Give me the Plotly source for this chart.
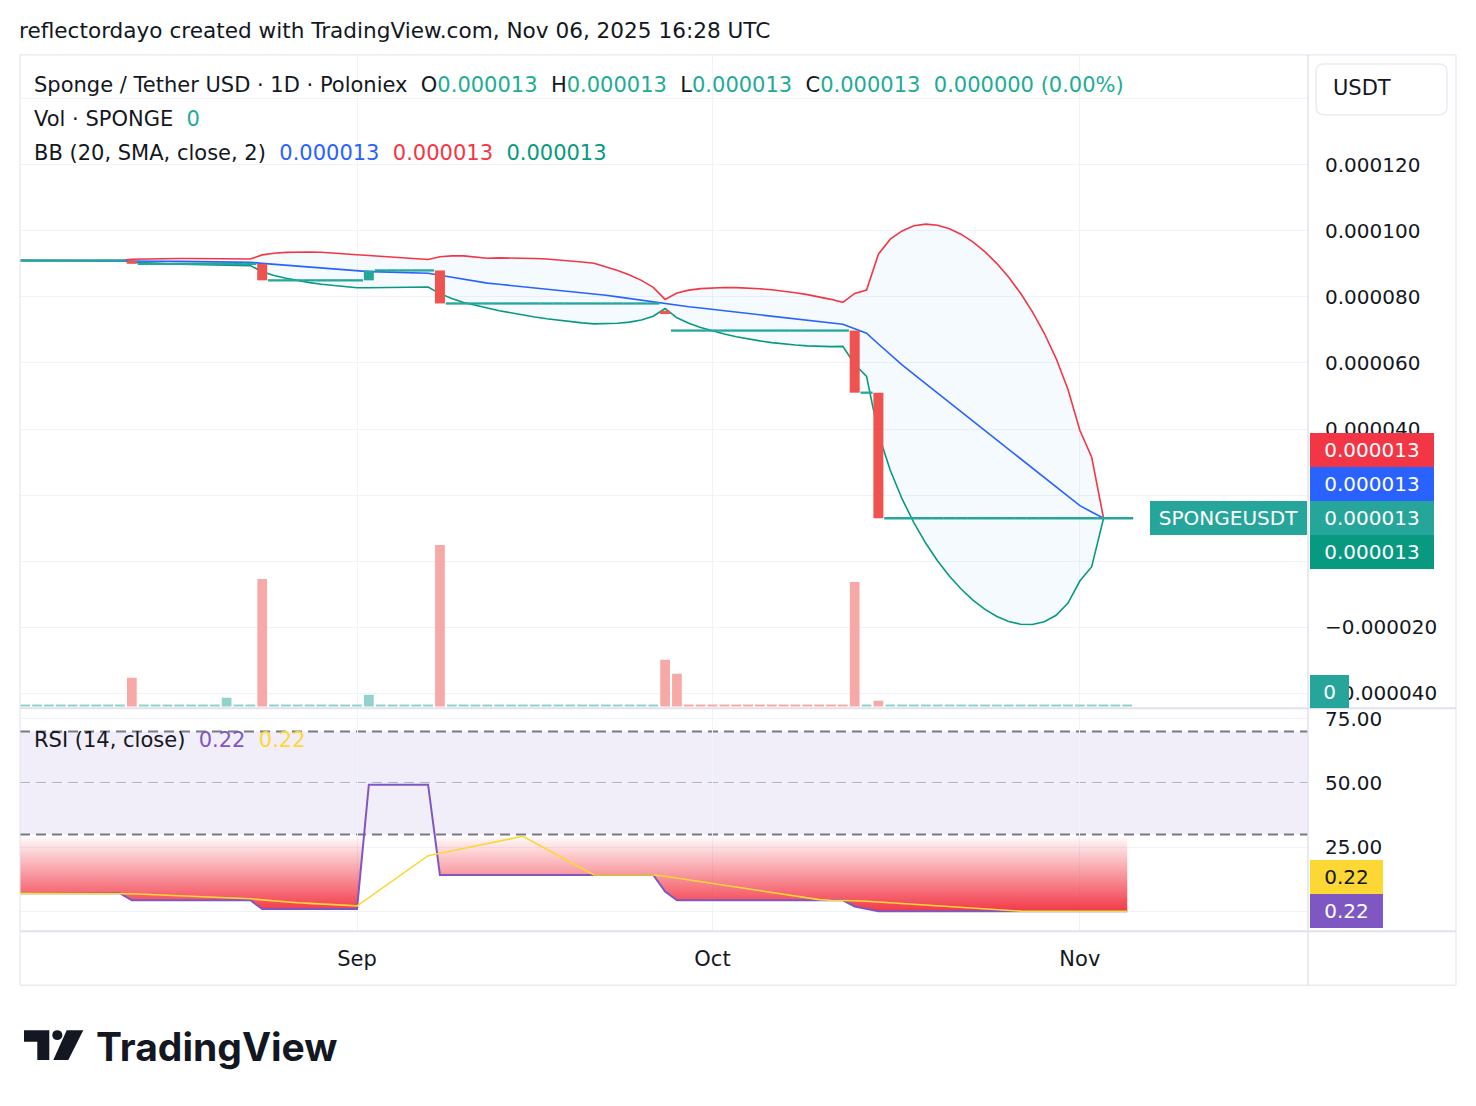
import numpy as np
import pandas as pd
import plotly.graph_objects as go

W, H = 1476, 1106

# ---------------------------------------------------------------- data
first_day = "2025-08-03"
n_days = 95
dates = pd.date_range(first_day, periods=n_days, freq="D")

# prices below are in millionths of USDT (value x 1e-6)
open_u = [
    91.0, 91.0, 91.0, 91.0, 91.0, 91.0, 91.0, 91.0, 91.0, 91.0,
    91.0, 90.0, 90.0, 90.0, 90.0, 90.0, 90.0, 90.0, 90.0, 90.0, 90.0,
    90.0, 85.0, 85.0, 85.0, 85.0, 85.0, 85.0, 85.0, 85.0,
    85.0, 88.0, 88.0, 88.0, 88.0, 88.0,
    88.0, 78.0, 78.0, 78.0, 78.0, 78.0, 78.0, 78.0, 78.0, 78.0,
    78.0, 78.0, 78.0, 78.0, 78.0, 78.0, 78.0, 78.0, 78.0,
    75.8,
    69.8, 69.8, 69.8, 69.8, 69.8, 69.8, 69.8, 69.8, 69.8, 69.8,
    69.8, 69.8, 69.8, 69.8, 69.8,
    69.8, 51.0,
    51.0, 13.0, 13.0, 13.0, 13.0, 13.0, 13.0, 13.0, 13.0, 13.0, 13.0,
    13.0, 13.0, 13.0, 13.0, 13.0, 13.0, 13.0, 13.0, 13.0, 13.0, 13.0,
]
close_u = [
    91.0, 91.0, 91.0, 91.0, 91.0, 91.0, 91.0, 91.0, 91.0, 91.0,
    90.0, 90.0, 90.0, 90.0, 90.0, 90.0, 90.0, 90.0, 90.0, 90.0, 90.0,
    85.0, 85.0, 85.0, 85.0, 85.0, 85.0, 85.0, 85.0, 85.0,
    88.0, 88.0, 88.0, 88.0, 88.0, 88.0,
    78.0, 78.0, 78.0, 78.0, 78.0, 78.0, 78.0, 78.0, 78.0, 78.0,
    78.0, 78.0, 78.0, 78.0, 78.0, 78.0, 78.0, 78.0, 78.0,
    74.8,
    69.8, 69.8, 69.8, 69.8, 69.8, 69.8, 69.8, 69.8, 69.8, 69.8,
    69.8, 69.8, 69.8, 69.8, 69.8,
    51.0, 51.0,
    13.0, 13.0, 13.0, 13.0, 13.0, 13.0, 13.0, 13.0, 13.0, 13.0, 13.0,
    13.0, 13.0, 13.0, 13.0, 13.0, 13.0, 13.0, 13.0, 13.0, 13.0, 13.0,
]
bb_mid_u = [
    91.00, 91.00, 91.00, 91.00, 91.00, 91.00, 91.00, 91.00, 91.00, 91.00,
    90.95, 90.90, 90.85, 90.80, 90.75, 90.70, 90.65, 90.60, 90.55, 90.50, 90.45,
    90.15, 89.85, 89.55, 89.25, 88.95, 88.65, 88.35, 88.05, 87.75,
    87.65, 87.55, 87.45, 87.35, 87.25, 87.15,
    86.55, 85.95, 85.35, 84.75, 84.15, 83.80, 83.45, 83.10, 82.75, 82.40,
    82.05, 81.70, 81.35, 81.00, 80.50, 80.00, 79.50, 79.00, 78.50,
    77.84, 77.43, 77.02, 76.61, 76.20, 75.79, 75.38, 74.97, 74.56, 74.15,
    73.74, 73.33, 72.92, 72.51, 72.10, 71.69,
    70.34, 68.99, 65.74, 62.49, 59.40, 56.56, 53.72, 50.88, 48.04, 45.20,
    42.36, 39.52, 36.68, 33.84, 31.00, 28.16, 25.32, 22.48, 19.64, 16.80,
    14.90, 13.00, 13.00, 13.00,
]
bb_upper_u = [
    91.00, 91.00, 91.00, 91.00, 91.00, 91.00, 91.00, 91.00, 91.00, 91.00,
    91.39, 91.50, 91.56, 91.60, 91.62, 91.62, 91.60, 91.58, 91.55, 91.50, 91.45,
    92.70, 93.21, 93.47, 93.58, 93.58, 93.48, 93.30, 93.05, 92.73,
    92.52, 92.30, 92.07, 91.83, 91.58, 91.31,
    92.12, 92.41, 92.40, 92.15, 91.69, 91.79, 91.80, 91.75, 91.62, 91.44,
    91.20, 90.91, 90.56, 90.17, 89.16, 88.00, 86.64, 85.00, 82.86,
    79.23, 81.19, 82.03, 82.50, 82.75, 82.84, 82.81, 82.68, 82.45, 82.14,
    81.74, 81.25, 80.68, 80.01, 79.25, 78.36,
    81.06, 82.05, 92.93, 97.47, 99.96, 101.52, 102.02, 101.68, 100.62, 98.90,
    96.56, 93.62, 90.08, 85.92, 81.08, 75.48, 68.98, 61.32, 51.98, 39.60,
    31.46, 13.00, 13.00, 13.00,
]
bb_lower_u = [
    91.00, 91.00, 91.00, 91.00, 91.00, 91.00, 91.00, 91.00, 91.00, 91.00,
    90.51, 90.30, 90.14, 90.00, 89.88, 89.78, 89.70, 89.62, 89.56, 89.50, 89.46,
    87.60, 86.49, 85.63, 84.92, 84.32, 83.82, 83.40, 83.05, 82.77,
    82.78, 82.80, 82.83, 82.87, 82.92, 82.99,
    80.98, 79.49, 78.30, 77.35, 76.61, 75.81, 75.10, 74.45, 73.88, 73.36,
    72.90, 72.49, 72.14, 71.83, 71.84, 72.00, 72.36, 73.00, 74.14,
    76.45, 73.67, 72.01, 70.72, 69.65, 68.74, 67.94, 67.26, 66.67, 66.16,
    65.74, 65.41, 65.16, 65.01, 64.95, 65.02,
    59.62, 55.93, 38.55, 27.51, 18.84, 11.60, 5.42, 0.08, -4.54, -8.50,
    -11.84, -14.58, -16.72, -18.24, -19.08, -19.16, -18.34, -16.36, -12.70, -6.00,
    -1.66, 13.00, 13.00, 13.00,
]
volume = [
    2000, 2000, 2000, 2000, 2000, 2000, 2000, 2000, 2000, 2000,
    28700, 2000, 2000, 2000, 2000, 2000, 2000, 2000, 8700, 2000, 2000,
    127700, 2000, 2000, 2000, 2000, 2000, 2000, 2000, 2000,
    11700, 2000, 2000, 2000, 2000, 2000,
    161700, 2000, 2000, 2000, 2000, 2000, 2000, 2000, 2000, 2000,
    2000, 2000, 2000, 2000, 2000, 2000, 2000, 2000, 2000,
    46700,
    32700, 2000, 2000, 2000, 2000, 2000, 2000, 2000, 2000, 2000,
    2000, 2000, 2000, 2000, 2000,
    124700, 2000,
    5700, 2000, 2000, 2000, 2000, 2000, 2000, 2000, 2000, 2000, 2000,
    2000, 2000, 2000, 2000, 2000, 2000, 2000, 2000, 2000, 2000, 2000,
]
vol_down = [
    0, 0, 0, 0, 0, 0, 0, 0, 0, 0,
    1, 0, 0, 0, 0, 0, 0, 0, 0, 0, 0,
    1, 0, 0, 0, 0, 0, 0, 0, 0,
    0, 0, 0, 0, 0, 0,
    1, 0, 0, 0, 0, 0, 0, 0, 0, 0,
    0, 0, 0, 0, 0, 0, 0, 0, 0,
    1,
    1, 1, 1, 1, 1, 1, 1, 1, 1, 1,
    1, 1, 1, 1, 1,
    1, 0,
    1, 0, 0, 0, 0, 0, 0, 0, 0, 0, 0,
    0, 0, 0, 0, 0, 0, 0, 0, 0, 0, 0,
]
rsi = [
    7.2, 7.2, 7.2, 7.2, 7.2, 7.2, 7.2, 7.2, 7.2, 7.2,
    4.5, 4.5, 4.5, 4.5, 4.5, 4.5, 4.5, 4.5, 4.5, 4.5, 4.5,
    1.1, 1.1, 1.1, 1.1, 1.1, 1.1, 1.1, 1.1, 1.1,
    49.4, 49.4, 49.4, 49.4, 49.4, 49.4,
    14.3, 14.3, 14.3, 14.3, 14.3, 14.3, 14.3, 14.3, 14.3, 14.3,
    14.3, 14.3, 14.3, 14.3, 14.3, 14.3, 14.3, 14.3, 14.3,
    7.9,
    4.5, 4.5, 4.5, 4.5, 4.5, 4.5, 4.5, 4.5, 4.5, 4.5,
    4.5, 4.5, 4.5, 4.5, 4.5,
    2.1, 1.2,
    0.22, 0.22, 0.22, 0.22, 0.22, 0.22, 0.22, 0.22, 0.22, 0.22, 0.22,
    0.22, 0.22, 0.22, 0.22, 0.22, 0.22, 0.22, 0.22, 0.22, 0.22, 0.22,
]
rsi_ma = [
    7.2, 7.2, 7.2, 7.2, 7.2, 7.2, 7.2, 7.2, 7.2, 7.2,
    7.01, 6.81, 6.63, 6.44, 6.24, 6.05, 5.86, 5.66, 5.47, 5.28, 5.09,
    4.64, 4.21, 3.77, 3.53, 3.29, 3.04, 2.80, 2.56, 2.31,
    5.52, 8.73, 11.94, 15.14, 18.35, 21.80,
    22.74, 23.69, 24.63, 25.57, 26.51, 27.46, 28.40, 29.34, 26.84, 24.33,
    21.82, 19.31, 16.81, 14.3, 14.3, 14.3, 14.3, 14.3, 14.3,
    13.84,
    13.14, 12.44, 11.74, 11.04, 10.34, 9.64, 8.94, 8.24, 7.54, 6.84,
    6.14, 5.44, 4.74, 4.5, 4.5,
    4.33, 4.09,
    3.79, 3.48, 3.18, 2.87, 2.57, 2.27, 1.96, 1.66, 1.35, 1.05, 0.74,
    0.42, 0.29, 0.22, 0.22, 0.22, 0.22, 0.22, 0.22, 0.22, 0.22, 0.22,
]

price_ticks_u = [-40, -20, 0, 20, 40, 60, 80, 100, 120, 140]
price_ticks_hidden_u = [0, 20, 140]   # covered by the value labels / currency button
rsi_ticks = [0, 25, 50, 75]
rsi_upper_level, rsi_mid_level, rsi_lower_level = 70, 50, 30
month_ticks = ["2025-09-01", "2025-10-01", "2025-11-01"]
month_labels = ["Sep", "Oct", "Nov"]
view_range = ["2025-08-03 13:28", "2025-11-20 06:04"]

# ---------------------------------------------------------------- helpers
def X(p):
    return p / W


def Y(p):
    return 1 - p / H


U = 1e-6
opn = np.array(open_u) * U
cls = np.array(close_u) * U
mid = np.array(bb_mid_u) * U
upp = np.array(bb_upper_u) * U
low = np.array(bb_lower_u) * U

TXT = "#131722"
RED_C = "#EF5350"
GRN_C = "#26A69A"
GRID = "#F0F3FA"
BORDER = "#E0E3EB"
FONT = "DejaVu Sans"
day_ms = 86400000
bar_w = 0.82 * day_ms

fig = go.Figure()

# volume (overlay axis)
fig.add_trace(go.Bar(
    x=dates, y=volume, width=bar_w, xaxis="x", yaxis="y2",
    marker=dict(color=["#F7A9A7" if d else "#92D2CC" for d in vol_down], line=dict(width=0)),
    hoverinfo="skip"))

# Bollinger bands
fig.add_trace(go.Scatter(x=dates, y=upp, mode="lines", line=dict(color="#F23645", width=1.6),
                         xaxis="x", yaxis="y", hoverinfo="skip"))
fig.add_trace(go.Scatter(x=dates, y=low, mode="lines", line=dict(color="#089981", width=1.6),
                         fill="tonexty", fillcolor="rgba(33,150,243,0.05)",
                         xaxis="x", yaxis="y", hoverinfo="skip"))
fig.add_trace(go.Scatter(x=dates, y=mid, mode="lines", line=dict(color="#2962FF", width=1.6),
                         xaxis="x", yaxis="y", hoverinfo="skip"))

# candles
bodies = {"down": ([], []), "up": ([], [])}
flat_x, flat_y = [], []
for d, o, c in zip(dates, opn, cls):
    if o == c:
        flat_x.append(d)
        flat_y.append(c)
    else:
        key = "down" if c < o else "up"
        bodies[key][0].extend([d, d, None])
        bodies[key][1].extend([o, c, None])
fig.add_trace(go.Scatter(x=flat_x, y=flat_y, mode="markers", xaxis="x", yaxis="y",
                         marker=dict(symbol="line-ew", size=8.6, color=GRN_C,
                                     line=dict(color=GRN_C, width=2.3)), hoverinfo="skip"))
for key, col in (("down", RED_C), ("up", GRN_C)):
    fig.add_trace(go.Scatter(x=bodies[key][0], y=bodies[key][1], mode="lines",
                             line=dict(color=col, width=10), xaxis="x", yaxis="y",
                             hoverinfo="skip"))

# RSI pane
fig.add_trace(go.Scatter(x=dates, y=[rsi_lower_level] * n_days, mode="lines",
                         line=dict(color="rgba(0,0,0,0)", width=0),
                         xaxis="x2", yaxis="y3", hoverinfo="skip"))
fig.add_trace(go.Scatter(x=dates, y=rsi, mode="lines", line=dict(color="#7E57C2", width=2),
                         fill="tonexty",
                         fillgradient=dict(type="vertical",
                                           colorscale=[[0, "rgba(242,54,69,1)"],
                                                       [1, "rgba(242,54,69,0)"]],
                                           start=0, stop=rsi_lower_level),
                         xaxis="x2", yaxis="y3", hoverinfo="skip"))
fig.add_trace(go.Scatter(x=dates, y=rsi_ma, mode="lines", line=dict(color="#FDD835", width=1.6),
                         xaxis="x2", yaxis="y3", hoverinfo="skip"))


def fmt_price(v):
    if v in price_ticks_hidden_u:
        return ""
    s = f"{abs(v) * U:.6f}"
    return ("\u2212" + s) if v < 0 else s


# pixel geometry of the panes
px_per_unit = 66.2 / 20.0          # price: px per 1e-6
y_ref_px, y_ref_val = 163, 120     # 0.000120 at y=163
p_top = y_ref_val + (y_ref_px - 53) / px_per_unit
p_bot = y_ref_val - (707 - y_ref_px) / px_per_unit
rsi_px = 64.5 / 25.0
rsi0_px = 911.5
r_top = (rsi0_px - 708) / rsi_px
r_bot = (rsi0_px - 930) / rsi_px
vol_unit_px = 654 / 654000
v_bot = -(707 - 705.7) / vol_unit_px
v_top = v_bot + 654 / vol_unit_px

fig.update_layout(
    width=W, height=H, margin=dict(l=0, r=0, t=0, b=0),
    paper_bgcolor="white", plot_bgcolor="white", showlegend=False, barmode="overlay",
    font=dict(family=FONT, size=21, color=TXT),
    xaxis=dict(domain=[X(20), X(1308)], anchor="y", type="date", range=view_range,
               tickvals=month_ticks, showticklabels=False, ticks="",
               showgrid=True, gridcolor=GRID, gridwidth=1, zeroline=False, showline=False),
    yaxis=dict(domain=[Y(707), Y(53)], anchor="x", side="right",
               range=[p_bot * U, p_top * U],
               tickvals=[v * U for v in price_ticks_u],
               ticktext=[fmt_price(v) for v in price_ticks_u],
               tickfont=dict(size=20, color=TXT), ticks="", ticklabelstandoff=16,
               showgrid=True, gridcolor=GRID, zeroline=False, showline=False),
    yaxis2=dict(overlaying="y", anchor="x", range=[v_bot, v_top], visible=False),
    xaxis2=dict(domain=[X(20), X(1308)], anchor="y3", type="date", matches="x",
                tickvals=month_ticks, ticktext=month_labels, ticks="",
                tickfont=dict(size=21, color=TXT), ticklabelstandoff=14,
                showgrid=True, gridcolor=GRID, gridwidth=1, zeroline=False, showline=False),
    yaxis3=dict(domain=[Y(930), Y(708)], anchor="x2", side="right", range=[r_bot, r_top],
                tickvals=rsi_ticks, ticktext=[f"{v:.2f}" for v in rsi_ticks],
                tickfont=dict(size=20, color=TXT), ticks="", ticklabelstandoff=16,
                showgrid=True, gridcolor=GRID, zeroline=False, showline=False),
)

shapes = []
# RSI band and levels
shapes.append(dict(type="rect", xref="x2", yref="y3", x0=view_range[0], x1=view_range[1],
                   y0=rsi_lower_level, y1=rsi_upper_level,
                   fillcolor="rgba(126,87,194,0.1)", line=dict(width=0), layer="below"))
for lvl, col in ((rsi_upper_level, "#787B86"), (rsi_mid_level, "#B2B5BE"), (rsi_lower_level, "#787B86")):
    shapes.append(dict(type="line", xref="x2", yref="y3", x0=view_range[0], x1=view_range[1],
                       y0=lvl, y1=lvl,
                       line=dict(color=col, width=2, dash="10px,6px"), layer="below"))
# frame
shapes.append(dict(type="rect", xref="paper", yref="paper", x0=X(20), x1=X(1456),
                   y0=Y(985), y1=Y(53), line=dict(color=BORDER, width=1), layer="above"))
shapes.append(dict(type="line", xref="paper", yref="paper", x0=X(1308), x1=X(1308),
                   y0=Y(985), y1=Y(53), line=dict(color=BORDER, width=1.5), layer="above"))
shapes.append(dict(type="line", xref="paper", yref="paper", x0=X(20), x1=X(1456),
                   y0=Y(707.5), y1=Y(707.5), line=dict(color=BORDER, width=2), layer="above"))
shapes.append(dict(type="line", xref="paper", yref="paper", x0=X(20), x1=X(1456),
                   y0=Y(931), y1=Y(931), line=dict(color=BORDER, width=2), layer="above"))


# USDT button (rounded rectangle)
def rrect(x0, y0, x1, y1, r):
    rx, ry = r / W, r / H
    a0, a1, b0, b1 = X(x0), X(x1), Y(y1), Y(y0)
    return (f"M{a0 + rx},{b1} L{a1 - rx},{b1} Q{a1},{b1} {a1},{b1 - ry} "
            f"L{a1},{b0 + ry} Q{a1},{b0} {a1 - rx},{b0} L{a0 + rx},{b0} "
            f"Q{a0},{b0} {a0},{b0 + ry} L{a0},{b1 - ry} Q{a0},{b1} {a0 + rx},{b1} Z")


shapes.append(dict(type="path", xref="paper", yref="paper", path=rrect(1316, 62, 1447, 113, 8),
                   fillcolor="white", line=dict(color="#E9ECF2", width=1.5), layer="above"))


# TradingView logo
def poly(pts):
    return "M" + " L".join(f"{X(a)},{Y(b)}" for a, b in pts) + " Z"


shapes.append(dict(type="path", xref="paper", yref="paper",
                   path=poly([(24, 1030), (49.3, 1030), (49.3, 1060), (37.3, 1060),
                              (37.3, 1041.7), (24, 1041.7)]),
                   fillcolor=TXT, line=dict(width=0), layer="above"))
shapes.append(dict(type="circle", xref="paper", yref="paper", x0=X(52.3), x1=X(62.3),
                   y0=Y(1040), y1=Y(1030), fillcolor=TXT, line=dict(width=0), layer="above"))
shapes.append(dict(type="path", xref="paper", yref="paper",
                   path=poly([(66.7, 1030), (83.3, 1030), (68.3, 1060), (53.3, 1060)]),
                   fillcolor=TXT, line=dict(width=0), layer="above"))
fig.update_layout(shapes=shapes)

# ---------------------------------------------------------------- texts
SP = "\u00a0"
TEAL_T = "#22AB94"


def col(t, c):
    return f"<span style='color:{c}'>{t}</span>"


last_c = cls[-1]
chg = cls[-1] - opn[-1]
chg_pct = 0.0 if opn[-1] == 0 else chg / opn[-1] * 100
line1 = ("Sponge / Tether USD · 1D · Poloniex" + SP * 2 +
         "O" + col(f"{opn[-1]:.6f}", TEAL_T) + SP * 2 +
         "H" + col(f"{max(opn[-1], cls[-1]):.6f}", TEAL_T) + SP * 2 +
         "L" + col(f"{min(opn[-1], cls[-1]):.6f}", TEAL_T) + SP * 2 +
         "C" + col(f"{last_c:.6f}", TEAL_T) + SP * 2 +
         col(f"{chg:.6f} ({chg_pct:.2f}%)", TEAL_T))
line2 = "Vol · SPONGE" + SP * 2 + col("0", TEAL_T)
line3 = ("BB (20, SMA, close, 2)" + SP * 2 + col(f"{mid[-1]:.6f}", "#2962FF") + SP * 2 +
         col(f"{upp[-1]:.6f}", "#F23645") + SP * 2 + col(f"{low[-1]:.6f}", "#089981"))
line_rsi = ("RSI (14, close)" + SP * 2 + col(f"{rsi[-1]:.2f}", "#7E57C2") + SP * 2 +
            col(f"{rsi_ma[-1]:.2f}", "#FDD835"))

ann = []


def text_ann(x, y, t, size=21, color=TXT, family=FONT):
    ann.append(dict(xref="paper", yref="paper", x=X(x), y=Y(y), xanchor="left", yanchor="middle",
                    text=t, showarrow=False, font=dict(size=size, color=color, family=family),
                    borderpad=0, borderwidth=0))


text_ann(19, 29, "reflectordayo created with TradingView.com, Nov 06, 2025 16:28 UTC", size=21.6)
text_ann(34, 83, line1)
text_ann(34, 117, line2)
text_ann(34, 151, line3)
text_ann(34, 739, line_rsi)
text_ann(1333, 86, "USDT", size=21)
text_ann(96, 1046, "<b>TradingView</b>", size=39, family="Inter")


def label(x0, w, yref, yval, yshift, t, bg, fg="white", h=34):
    ann.append(dict(xref="paper", yref=yref, x=X(x0), y=yval, xanchor="left", yanchor="middle",
                    yshift=yshift, text=t, showarrow=False, width=w, height=h, align="center",
                    valign="middle", bgcolor=bg, borderpad=0, borderwidth=0,
                    font=dict(size=20, color=fg, family=FONT)))


label(1310, 124, "y", upp[-1], 68, f"{upp[-1]:.6f}", "#F23645")
label(1310, 124, "y", mid[-1], 34, f"{mid[-1]:.6f}", "#2962FF")
label(1310, 124, "y", last_c, 0, f"{last_c:.6f}", "#26A69A")
label(1310, 124, "y", low[-1], -34, f"{low[-1]:.6f}", "#089981")
label(1150, 157, "y", last_c, 0, "SPONGEUSDT", "#26A69A")
label(1310, 39, "paper", Y(690.5), 0, "0", "#26A69A", h=33)
label(1310, 73, "y3", rsi_ma[-1], 34, f"{rsi_ma[-1]:.2f}", "#FDD835", fg=TXT)
label(1310, 73, "y3", rsi[-1], 0, f"{rsi[-1]:.2f}", "#7E57C2")

fig.update_layout(annotations=ann)

fig.write_html("out.html")
